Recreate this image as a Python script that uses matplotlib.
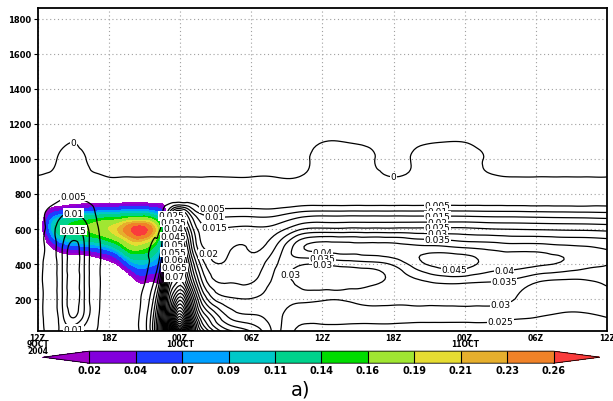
import numpy as np
import matplotlib
matplotlib.use('Agg')
import matplotlib.pyplot as plt
import matplotlib.tri as mtri
from matplotlib.colors import ListedColormap, BoundaryNorm
from matplotlib.cm import ScalarMappable

# contoured field: one vertical profile per hour (from 12Z 9OCT)
hours = [0, 1, 2, 3, 4, 5, 6, 7, 8, 9, 10, 10.5, 11, 11.5, 12, 12.5, 13, 14,
         16, 18, 20, 22, 24, 26, 28, 30, 32, 34, 36, 38, 40, 42, 44, 46, 48]
heights = [15, 100, 200, 300, 400, 500, 600, 650, 700, 750, 800, 900, 1000, 1100, 1870]
profiles = [
    [.003, .003, .003, .0035, .0035, .0035, .0035, .0035, .003, .0025, .002, .0001, -.001, -.0015, -.002],
    [.006, .0065, .0068, .0068, .0068, .0068, .0068, .0065, .006, .004, .003, .0004, -.0006, -.0012, -.002],
    [.011, .013, .014, .014, .014, .014, .013, .011, .0088, .006, .0038, .0015, .0005, -.0007, -.002],
    [.007, .0205, .023, .023, .023, .022, .0145, .012, .0095, .007, .0045, .003, .0012, -.0001, -.002],
    [.008, .013, .014, .014, .014, .014, .012, .0098, .0078, .0055, .0035, .0013, .0001, -.001, -.002],
    [.0048, .0058, .006, .006, .006, .006, .0055, .0049, .0044, .004, .003, .0004, -.0007, -.0012, -.002],
    [.003, .003, .003, .003, .003, .003, .003, .003, .003, .0028, .0022, -.0001, -.001, -.0015, -.002],
    [.003, .003, .003, .003, .003, .003, .003, .003, .003, .0028, .0022, -.0001, -.001, -.0015, -.002],
    [.003, .003, .003, .003, .003, .003, .003, .003, .003, .0028, .0022, -.0001, -.001, -.0015, -.002],
    [.008, .008, .0065, .0048, .0038, .0033, .003, .003, .003, .0028, .0022, -.0001, -.001, -.0015, -.002],
    [.03, .028, .021, .013, .008, .0055, .0042, .0036, .0032, .0028, .0022, -.0001, -.001, -.0015, -.002],
    [.055, .052, .044, .031, .02, .012, .0075, .006, .0048, .0035, .0024, -.0001, -.001, -.0015, -.002],
    [.085, .08, .072, .06, .046, .036, .026, .019, .011, .0042, .0022, -.0001, -.001, -.0015, -.002],
    [.14, .11, .088, .072, .063, .053, .042, .034, .024, .0052, .0025, -.0001, -.001, -.0015, -.002],
    [.17, .125, .098, .076, .066, .056, .046, .037, .027, .0055, .0028, -.0001, -.001, -.0015, -.002],
    [.14, .11, .088, .068, .058, .048, .038, .031, .022, .0052, .0026, -.0001, -.001, -.0015, -.002],
    [.10, .085, .07, .054, .044, .034, .027, .022, .014, .0045, .0025, -.0001, -.001, -.0015, -.002],
    [.072, .058, .044, .033, .026, .0195, .0165, .013, .0075, .003, .0022, -.0001, -.001, -.0015, -.002],
    [.052, .04, .031, .0245, .021, .019, .0155, .0118, .0068, .0027, .0022, -.0001, -.001, -.0015, -.002],
    [.045, .036, .0302, .0245, .0215, .0195, .016, .012, .0068, .0027, .0022, -.0001, -.001, -.0015, -.002],
    [.033, .032, .031, .031, .0292, .0245, .0172, .0125, .0068, .0027, .0022, -.0001, -.001, -.0015, -.002],
    [.024, .027, .0305, .029, .031, .038, .024, .017, .0095, .0033, .0025, -.0001, -.001, -.0015, -.002],
    [.023, .027, .0302, .028, .0305, .042, .026, .0185, .0105, .0035, .003, .002, .0012, -.0001, -.002],
    [.023, .027, .0302, .0285, .032, .042, .026, .0185, .0105, .0035, .003, .002, .0012, -.0001, -.002],
    [.023, .027, .031, .029, .033, .042, .026, .0185, .0105, .0035, .0028, .0015, .0004, -.0006, -.002],
    [.023, .027, .031, .0312, .036, .042, .026, .0185, .0105, .0035, .0025, -.0001, -.001, -.0015, -.002],
    [.022, .027, .031, .034, .043, .041, .026, .0185, .0105, .0035, .0028, .0012, .0006, -.0006, -.002],
    [.022, .027, .031, .036, .047, .0405, .026, .0185, .0105, .0035, .003, .002, .0012, -.0001, -.002],
    [.022, .027, .031, .036, .047, .039, .026, .0185, .0105, .0035, .003, .002, .0012, -.0001, -.002],
    [.022, .027, .031, .0352, .043, .038, .0252, .018, .0102, .0035, .0028, .0006, -.0004, -.0012, -.002],
    [.022, .026, .0302, .034, .042, .037, .0248, .0178, .0101, .0034, .0025, -.0001, -.001, -.0015, -.002],
    [.022, .0252, .028, .0305, .041, .037, .0245, .0175, .0098, .0033, .0025, -.0001, -.001, -.0015, -.002],
    [.021, .024, .027, .029, .0395, .036, .0242, .0172, .0096, .0033, .0025, -.0001, -.001, -.0015, -.002],
    [.021, .024, .027, .0292, .037, .0352, .024, .017, .0094, .0032, .0024, -.0001, -.001, -.0015, -.002],
    [.022, .0252, .028, .0312, .0352, .034, .0235, .0165, .0092, .0032, .0024, -.0001, -.001, -.0015, -.002],
]

# shaded field (blob), one profile per hour
cloud_hours = [0, 0.5, 1, 2, 3, 4, 5, 6, 7, 8, 8.5, 9, 10, 10.5, 11]
cloud_heights = [250, 300, 350, 400, 450, 500, 550, 600, 650, 700, 750, 800]
cloud_profiles = [
    [-.02, -.02, -.02, -.02, -.02, -.02, -.02, -.02, -.02, -.02, -.02, -.02],
    [-.01, -.01, -.01, -.01, -.01, -.01, -.002, .02, .014, -.004, -.01, -.01],
    [-.01, -.01, -.01, -.01, -.008, .006, .045, .075, .065, .022, -.008, -.01],
    [-.01, -.01, -.01, -.01, .0, .045, .10, .13, .11, .045, -.003, -.01],
    [-.01, -.01, -.01, -.01, .006, .06, .12, .15, .13, .06, .002, -.01],
    [-.01, -.01, -.01, -.01, .008, .07, .13, .16, .14, .07, .004, -.01],
    [-.01, -.01, -.01, -.005, .02, .08, .14, .175, .15, .075, .006, -.01],
    [-.01, -.01, -.01, .002, .035, .10, .16, .19, .16, .08, .007, -.01],
    [-.01, -.01, -.008, .025, .08, .14, .19, .22, .17, .085, .008, -.01],
    [-.01, -.002, .03, .08, .13, .18, .23, .265, .19, .09, .009, -.01],
    [-.01, .012, .05, .09, .13, .18, .24, .28, .19, .09, .009, -.01],
    [-.01, .014, .05, .09, .13, .17, .23, .27, .19, .09, .009, -.01],
    [-.01, .013, .04, .07, .10, .13, .17, .20, .15, .07, .008, -.01],
    [-.01, .012, .025, .045, .06, .08, .10, .12, .09, .045, .006, -.01],
    [-.02, -.02, -.02, -.02, -.02, -.02, -.02, -.02, -.02, -.02, -.02, -.02],
]

shade_bounds = [0.02, 0.04, 0.07, 0.09, 0.11, 0.14, 0.16, 0.19, 0.21, 0.23, 0.26]
shade_labels = ['0.02', '0.04', '0.07', '0.09', '0.11', '0.14', '0.16', '0.19', '0.21', '0.23', '0.26']
shade_colors = ['#a000c8', '#8200dc', '#1e3cff', '#00a0ff', '#00c8c8', '#00d28c',
                '#00dc00', '#a0e632', '#e6dc32', '#e6af2d', '#f08228', '#fa3c3c']

tick_hours = [0, 6, 12, 18, 24, 30, 36, 42, 48]
tick_names = ['12Z\n9OCT\n2004', '18Z', '00Z\n10OCT', '06Z', '12Z', '18Z', '00Z\n11OCT', '06Z', '12Z']
height_ticks = [200, 400, 600, 800, 1000, 1200, 1400, 1600, 1800]

# where the contour labels sit (hour, height)
label_spots = [(3, 1092), (30, 898),
               (3, 790), (3, 690), (3, 594), (3, 33),
               (14.7, 720), (14.9, 672), (14.9, 615), (14.7, 470),
               (11.3, 675), (11.4, 640), (11.5, 600), (11.5, 555), (11.5, 510),
               (11.6, 465), (11.6, 420), (11.7, 375), (11.7, 320),
               (24, 486), (24, 440), (24, 394), (21, 345),
               (33.7, 739), (33.7, 703), (33.7, 672), (33.7, 640), (33.7, 607), (33.7, 567), (33.7, 533),
               (35.1, 382), (39.3, 368), (39.3, 306), (39, 175), (39, 66)]


def smooth_grid(xs, ys, cols, subdiv=3):
    # triangulate the grid (heights scaled to about the same pixel size as hours)
    # and let matplotlib refine it with its cubic interpolator
    zz = np.array(cols).T
    nx, ny = len(xs), len(ys)
    X, Y = np.meshgrid(xs, np.array(ys) / 68.0)
    tris = []
    for j in range(ny - 1):
        for i in range(nx - 1):
            a = j * nx + i
            tris += [[a, a + 1, a + nx + 1], [a, a + nx + 1, a + nx]]
    tri = mtri.Triangulation(X.ravel(), Y.ravel(), tris)
    ref, zr = mtri.UniformTriRefiner(tri).refine_field(zz.ravel(), subdiv=subdiv)
    return mtri.Triangulation(ref.x, ref.y * 68.0, ref.triangles), zr


fig = plt.figure(figsize=(6.13, 4.02), dpi=100)
ax = fig.add_axes([0.0615, 0.175, 0.929, 0.802])

ctri, cval = smooth_grid(cloud_hours, cloud_heights, cloud_profiles)
ax.tricontourf(ctri, cval, levels=[0.01] + shade_bounds + [1.0], colors=shade_colors, zorder=1)

ftri, fval = smooth_grid(hours, heights, profiles)
levels = np.round(np.arange(0, 0.3, 0.005), 3)
cs = ax.tricontour(ftri, fval, levels=levels, colors='black', linewidths=0.9, zorder=2)
texts = ax.clabel(cs, fmt=lambda v: f'{v:g}', fontsize=6.5, inline=False, manual=label_spots)
for t in texts:
    t.set_rotation(0)
    t.set_bbox(dict(boxstyle='square,pad=0.05', fc='white', ec='none'))

ax.set_xlim(0, 48)
ax.set_ylim(20, 1860)
ax.set_xticks(tick_hours)
ax.set_xticklabels(tick_names, fontsize=5.5, fontweight='bold')
for t in ax.get_xticklabels():
    t.set_linespacing(0.66)
ax.set_yticks(height_ticks)
ax.set_yticklabels([str(v) for v in height_ticks], fontsize=6, fontweight='bold')
ax.tick_params(axis='y', direction='out', length=3, width=0.8, pad=1.5)
ax.tick_params(axis='x', length=0, pad=1.5)
ax.grid(True, color='#a0a0a0', linestyle=(0, (1, 2.5)), linewidth=0.8)
ax.set_axisbelow(True)
for s in ax.spines.values():
    s.set_linewidth(1.3)

cmap = ListedColormap(shade_colors[1:-1])
cmap.set_under(shade_colors[0])
cmap.set_over(shade_colors[-1])
sm = ScalarMappable(norm=BoundaryNorm(shade_bounds, cmap.N), cmap=cmap)
cax = fig.add_axes([0.0701, 0.094, 0.9086, 0.03])
cb = fig.colorbar(sm, cax=cax, orientation='horizontal', extend='both', extendfrac=0.1,
                  drawedges=True, ticks=shade_bounds)
cb.ax.set_xticklabels(shade_labels, fontsize=7, fontweight='bold')
cb.ax.tick_params(length=0, pad=1)
cb.outline.set_linewidth(0.6)
cb.dividers.set_linewidth(0.8)

fig.text(0.49, 0.03, 'a)', ha='center', va='center', fontsize=14)

fig.savefig('out.png', dpi=100)
